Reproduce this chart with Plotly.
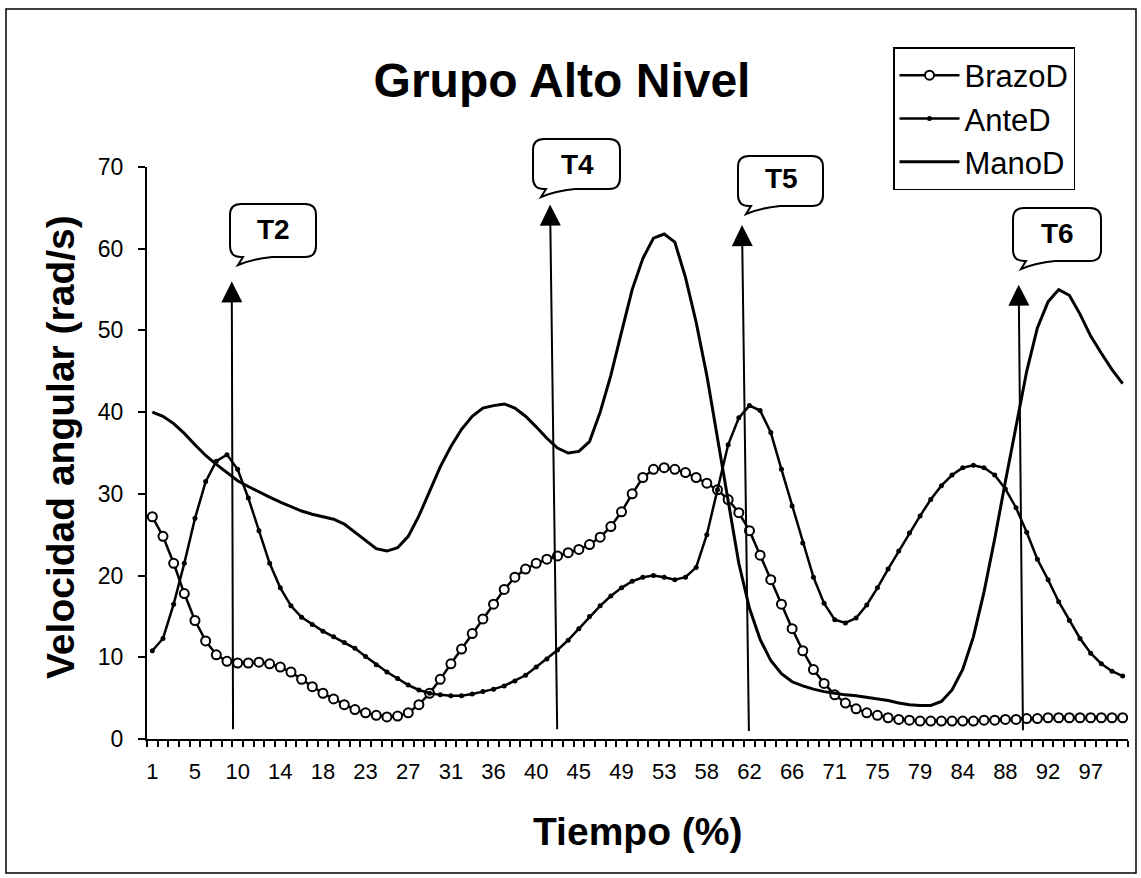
import plotly.graph_objects as go

# ---------------- data ----------------
tick_labels = ["1", "5", "10", "14", "18", "23", "27", "31", "36", "40", "45", "49",
               "53", "58", "62", "66", "71", "75", "79", "84", "88", "92", "97"]

brazo_d = [27.2, 24.8, 21.5, 17.8, 14.5, 12.0, 10.3, 9.5, 9.3, 9.3,
           9.4, 9.2, 8.8, 8.2, 7.3, 6.4, 5.6, 4.9, 4.2, 3.6,
           3.2, 2.9, 2.7, 2.8, 3.2, 4.2, 5.6, 7.3, 9.2, 11.0,
           12.9, 14.7, 16.5, 18.3, 19.8, 20.8, 21.5, 22.0, 22.4, 22.8,
           23.2, 23.8, 24.7, 26.0, 27.8, 30.0, 32.0, 33.0, 33.2, 33.0,
           32.6, 32.0, 31.3, 30.5, 29.3, 27.7, 25.5, 22.5, 19.5, 16.5,
           13.5, 10.8, 8.5, 6.8, 5.4, 4.4, 3.7, 3.2, 2.9, 2.6,
           2.4, 2.3, 2.2, 2.2, 2.2, 2.2, 2.2, 2.2, 2.3, 2.3,
           2.4, 2.4, 2.5, 2.5, 2.6, 2.6, 2.6, 2.6, 2.6, 2.6,
           2.6, 2.6]

ante_d = [10.8, 12.3, 16.5, 21.5, 27.0, 31.5, 34.0, 34.8, 33.0, 29.5,
          25.5, 21.5, 18.5, 16.3, 14.9, 14.0, 13.2, 12.5, 11.8, 11.1,
          10.1, 9.1, 8.2, 7.4, 6.6, 6.0, 5.6, 5.4, 5.3, 5.3,
          5.5, 5.8, 6.1, 6.5, 7.1, 7.8, 8.8, 9.8, 10.9, 12.1,
          13.5, 15.0, 16.3, 17.5, 18.5, 19.3, 19.8, 20.0, 19.8, 19.5,
          19.8, 21.0, 25.0, 30.5, 36.0, 39.3, 40.8, 40.2, 37.5, 33.0,
          28.5, 24.0, 19.8, 16.6, 14.6, 14.2, 14.8, 16.4, 18.5, 20.8,
          23.0, 25.2, 27.3, 29.3, 31.0, 32.3, 33.2, 33.5, 33.2, 32.3,
          30.6, 28.3, 25.3, 22.0, 19.5, 16.8, 14.5, 12.3, 10.5, 9.2,
          8.3, 7.7]

mano_d = [40.0, 39.5, 38.6, 37.4, 36.0, 34.7, 33.6, 32.6, 31.6, 30.9,
          30.2, 29.6, 29.0, 28.4, 27.9, 27.5, 27.2, 26.9, 26.3, 25.3,
          24.2, 23.3, 23.0, 23.4, 24.8, 27.3, 30.3, 33.3, 35.8, 37.9,
          39.5, 40.5, 40.8, 41.0, 40.5, 39.5, 38.2, 36.8, 35.6, 35.0,
          35.2, 36.4, 40.0, 44.5, 49.8, 55.0, 58.8, 61.3, 61.8, 60.8,
          56.5, 51.0, 44.5, 37.0, 29.0, 21.5, 16.0, 12.2, 9.6, 8.0,
          7.0, 6.5, 6.1, 5.8, 5.6, 5.4, 5.3, 5.1, 4.9, 4.7,
          4.4, 4.2, 4.1, 4.1, 4.6, 6.0, 8.5, 12.5, 18.0, 24.5,
          31.5, 38.5, 45.0, 50.3, 53.5, 55.0, 54.3, 52.0, 49.3, 47.2,
          45.2, 43.5]

# event markers (T phases): x in category index, y tip / y base
t_names = ["T2", "T4", "T5", "T6"]
t_tip_x = [7.45, 37.3, 55.3, 81.25]
t_tip_y = [56.0, 65.4, 62.9, 55.6]
t_base_x = [7.57, 37.97, 55.95, 81.65]
t_base_y = [1.0, 1.0, 0.8, 0.9]

x_idx = list(range(len(mano_d)))
tick_pos = list(range(0, 4 * len(tick_labels), 4))

# ---------------- layout geometry (pixels) ----------------
W, H = 1141, 878
L, R, T, B = 147, 1128, 167, 739
FONT = "Liberation Sans, Arial, sans-serif"


def px(x):
    return (x - L) / (R - L)


def py(y):
    return (B - y) / (B - T)


fig = go.Figure()

fig.add_trace(go.Scatter(
    x=x_idx, y=brazo_d, name="BrazoD", mode="lines+markers",
    line=dict(color="black", width=2.5),
    marker=dict(symbol="circle", size=9, color="white",
                line=dict(color="black", width=2)),
))
fig.add_trace(go.Scatter(
    x=x_idx, y=ante_d, name="AnteD", mode="lines+markers",
    line=dict(color="black", width=2.5),
    marker=dict(symbol="circle", size=5, color="black"),
))
fig.add_trace(go.Scatter(
    x=x_idx, y=mano_d, name="ManoD", mode="lines",
    line=dict(color="black", width=3),
))

shapes = []
annotations = []

# outer frame
shapes.append(dict(type="rect", xref="paper", yref="paper",
                   x0=px(6), x1=px(1136), y0=py(873), y1=py(9),
                   line=dict(color="black", width=1.5), layer="below"))

# speech bubbles (pixel boxes)
bubbles = {
    "T2": (230, 204, 316, 257, 273, 229),
    "T4": (533, 139, 620, 189, 577, 164),
    "T5": (738, 156, 823, 206, 781, 179),
    "T6": (1013, 208, 1101, 261, 1057, 233),
}


def bubble_path(x0, y0, x1, y1, r=11):
    def P(x, y):
        return f"{px(x):.5f},{py(y):.5f}"
    p = "M" + P(x0 + r, y0)
    p += " L" + P(x1 - r, y0)
    p += " Q" + P(x1, y0) + " " + P(x1, y0 + r)
    p += " L" + P(x1, y1 - r)
    p += " Q" + P(x1, y1) + " " + P(x1 - r, y1)
    p += " L" + P(x0 + 42, y1)
    p += " Q" + P(x0 + 22, y1 + 2) + " " + P(x0 + 8, y1 + 8)
    p += " L" + P(x0 + 13, y1)
    p += " L" + P(x0 + r, y1)
    p += " Q" + P(x0, y1) + " " + P(x0, y1 - r)
    p += " L" + P(x0, y0 + r)
    p += " Q" + P(x0, y0) + " " + P(x0 + r, y0)
    p += " Z"
    return p


for name in t_names:
    x0, y0, x1, y1, tx, ty = bubbles[name]
    shapes.append(dict(type="path", xref="paper", yref="paper",
                       path=bubble_path(x0, y0, x1, y1),
                       line=dict(color="black", width=2),
                       fillcolor="white", layer="above"))
    annotations.append(dict(xref="paper", yref="paper", x=px(tx), y=py(ty),
                            text=f"<b>{name}</b>", showarrow=False,
                            xanchor="center", yanchor="middle",
                            font=dict(family=FONT, size=28, color="black")))

# arrows
for i in range(len(t_names)):
    annotations.append(dict(
        x=t_tip_x[i], y=t_tip_y[i], xref="x", yref="y",
        ax=t_base_x[i], ay=t_base_y[i], axref="x", ayref="y",
        text="", showarrow=True, arrowhead=2, arrowsize=2.1,
        arrowwidth=2, arrowcolor="black", standoff=0, startstandoff=0))

# axis titles
annotations.append(dict(xref="paper", yref="paper", x=px(60), y=py(447),
                        text="<b>Velocidad angular (rad/s)</b>", textangle=-90,
                        showarrow=False, xanchor="center", yanchor="middle",
                        font=dict(family=FONT, size=39, color="black")))
annotations.append(dict(xref="paper", yref="paper", x=px(637), y=py(831),
                        text="<b>Tiempo (%)</b>", showarrow=False,
                        xanchor="center", yanchor="middle",
                        font=dict(family=FONT, size=39, color="black")))

fig.update_layout(
    width=W, height=H,
    margin=dict(l=L, r=W - R, t=T, b=H - B),
    paper_bgcolor="white", plot_bgcolor="white",
    font=dict(family=FONT, color="black"),
    title=dict(text="<b>Grupo Alto Nivel</b>", x=562 / W, xref="container",
               xanchor="center", y=1 - 80 / H, yref="container",
               yanchor="middle", font=dict(family=FONT, size=48, color="black")),
    showlegend=True,
    legend=dict(x=px(893), y=py(47), xanchor="left", yanchor="top",
                bgcolor="white", bordercolor="black", borderwidth=1.5,
                font=dict(family=FONT, size=31, color="black"),
                itemwidth=60, tracegroupgap=0),
    shapes=shapes,
    annotations=annotations,
)

fig.update_xaxes(
    range=[-0.5, len(x_idx) - 0.5], showline=True, linecolor="black",
    linewidth=2, showgrid=False, zeroline=False,
    tickvals=tick_pos, ticktext=tick_labels, ticks="",
    ticklabelstandoff=12,
    tickfont=dict(family=FONT, size=22, color="black"),
    minor=dict(ticks="outside", tick0=-0.5, dtick=1, ticklen=6,
               tickwidth=1.5, tickcolor="black", showgrid=False),
)
fig.update_yaxes(
    range=[0, 70], dtick=10, showline=True, linecolor="black", linewidth=2,
    showgrid=False, zeroline=False, ticks="outside", ticklen=7,
    tickwidth=1.5, tickcolor="black", ticklabelstandoff=10,
    tickfont=dict(family=FONT, size=23, color="black"),
)

fig.write_html("out.html", config={"displayModeBar": False},
               post_script="document.body.style.margin='0';")
